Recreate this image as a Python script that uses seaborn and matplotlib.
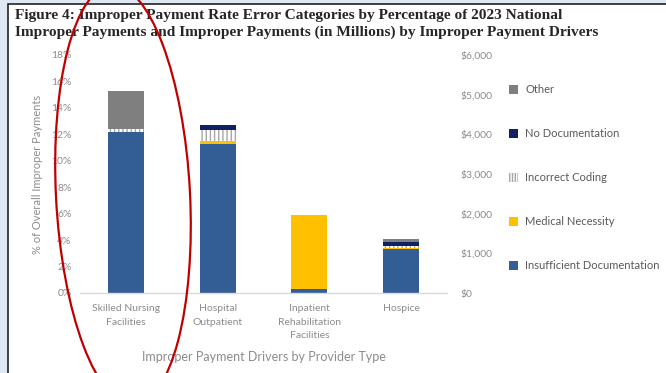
import pandas as pd
import seaborn as sns
import matplotlib.pyplot as plt
from matplotlib.patches import Patch, Ellipse, Rectangle
from matplotlib.ticker import FuncFormatter
from matplotlib.transforms import IdentityTransform

# provider types on the x axis
providers = ['Skilled Nursing\nFacilities', 'Hospital\nOutpatient',
             'Inpatient\nRehabilitation\nFacilities', 'Hospice']

# % of overall improper payments per error category
insufficient_doc = [12.2, 11.25, 0.28, 3.3]
medical_necessity = [0.0, 0.25, 5.6, 0.12]
incorrect_coding = [0.2, 0.8, 0.0, 0.12]
no_documentation = [0.0, 0.4, 0.0, 0.28]
other = [2.9, 0.0, 0.0, 0.23]

categories = ['Insufficient Documentation', 'Medical Necessity', 'Incorrect Coding',
              'No Documentation', 'Other']
colors = ['#335e95', '#ffc000', '#ffffff', '#0f2160', '#7f7f7f']

pct_ticks = list(range(0, 20, 2))
dollar_ticks = list(range(0, 7000, 1000))

series = [insufficient_doc, medical_necessity, incorrect_coding, no_documentation, other]
rows = []
for cat, vals in zip(categories, series):
    for prov, v in zip(providers, vals):
        rows.append({'provider': prov, 'category': cat, 'pct': v})
df = pd.DataFrame(rows)

sns.set_style('white')
plt.rcParams['font.family'] = ['Lato', 'DejaVu Sans']
plt.rcParams['hatch.linewidth'] = 1.0

fig = plt.figure(figsize=(6.66, 3.73), dpi=100)
fig.patch.set_facecolor('#dde8f4')
# white page with dark border on left / top
fig.add_artist(Rectangle((8 / 666, -0.1), 1.2, 1.1 - 4.5 / 373, transform=fig.transFigure,
                         facecolor='white', edgecolor='#222222', linewidth=1.2, zorder=0))

ax = fig.add_axes([80 / 666, 1 - 293 / 373, (447 - 80) / 666, (293 - 55) / 373])
ax.set_facecolor('none')

gray = '#8c8c8c'
bottom = [0.0] * len(providers)
for cat, col in zip(categories, colors):
    sub = df[df['category'] == cat]
    if cat == 'Incorrect Coding':
        kw = dict(hatch='||||', edgecolor='#a6a6a6', linewidth=0)
    else:
        kw = dict(linewidth=0)
    sns.barplot(data=sub, x='provider', y='pct', order=providers, color=col,
                width=0.39, bottom=bottom, errorbar=None, saturation=1, ax=ax, **kw)
    bottom = [b + v for b, v in zip(bottom, sub['pct'].tolist())]

ax.set_ylim(0, 18)
ax.set_xlim(-0.5, 3.5)
ax.set_yticks(pct_ticks)
ax.set_yticklabels([f'{t}%' for t in pct_ticks], fontsize=7.5, color=gray)
ax.tick_params(axis='x', length=0, pad=8, labelsize=7.5, labelcolor=gray)
ax.tick_params(axis='y', length=0, pad=6)
for t in ax.get_xticklabels():
    t.set_linespacing(1.65)
ax.set_xlabel('Improper Payment Drivers by Provider Type', fontsize=9, color=gray, labelpad=8)
ax.set_ylabel('% of Overall Improper Payments', fontsize=8, color=gray, labelpad=6)
for s in ['top', 'left', 'right']:
    ax.spines[s].set_visible(False)
ax.spines['bottom'].set_color('#d9d9d9')
ax.spines['bottom'].set_linewidth(1)

ax2 = ax.twinx()
ax2.set_ylim(0, 6000)
ax2.set_yticks(dollar_ticks)
ax2.yaxis.set_major_formatter(FuncFormatter(lambda v, p: f'${v:,.0f}'))
ax2.tick_params(axis='y', length=0, pad=10, labelsize=7.5, labelcolor=gray)
for s in ['top', 'left', 'right', 'bottom']:
    ax2.spines[s].set_visible(False)

handles = []
for cat, col in zip(categories[::-1], colors[::-1]):
    if cat == 'Incorrect Coding':
        handles.append(Patch(facecolor='white', edgecolor='#a6a6a6', hatch='||||||', linewidth=0, label=cat))
    else:
        handles.append(Patch(facecolor=col, linewidth=0, label=cat))
fig.legend(handles=handles, loc='upper left', bbox_to_anchor=(499 / 666, 1 - 74 / 373),
           frameon=False, fontsize=8, labelcolor='#595959', handlelength=0.85,
           handleheight=0.85, handletextpad=0.6, labelspacing=2.97)

fig.text(15 / 666, 1 - 9 / 373,
         'Figure 4: Improper Payment Rate Error Categories by Percentage of 2023 National\n'
         'Improper Payments and Improper Payments (in Millions) by Improper Payment Drivers',
         ha='left', va='top', fontsize=11.1, fontweight='bold', family='Liberation Serif',
         linespacing=1.3)

# red hand-drawn style ring around the first bar (pixel coordinates)
fig.add_artist(Ellipse((123, 373 - 195), 134, 420, angle=3, transform=IdentityTransform(),
                       fill=False, edgecolor='#c00000', linewidth=1.6, zorder=10))

fig.savefig('out.png', dpi=100, facecolor=fig.get_facecolor())
